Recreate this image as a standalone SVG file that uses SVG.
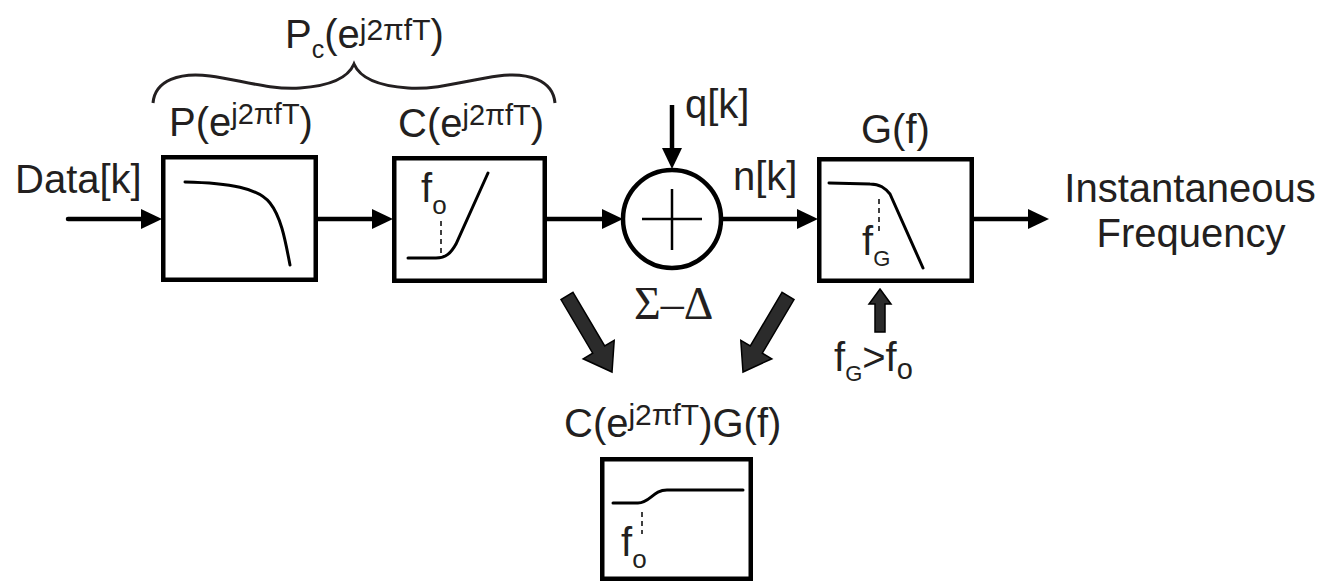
<svg xmlns="http://www.w3.org/2000/svg" width="1326" height="581" viewBox="0 0 1326 581">
<style>
.t{font-family:"Liberation Sans",Arial,sans-serif;fill:#231f20;font-size:40px}
.ts{font-family:"Liberation Serif","Times New Roman",serif;fill:#231f20;font-size:46px}
.box{fill:#fff;stroke:#000;stroke-width:4.5}
.crv{fill:none;stroke:#000;stroke-width:3;stroke-linecap:round}
.dash{fill:none;stroke:#000;stroke-width:1.5;stroke-dasharray:5,4}
.wire{fill:none;stroke:#000;stroke-width:4.5}
.fat{fill:#2b2b2b;stroke:#000;stroke-width:1.5;stroke-linejoin:miter}
</style>
<defs>
<marker id="ah" markerUnits="userSpaceOnUse" markerWidth="22" markerHeight="22" refX="10" refY="10" orient="auto" viewBox="0 0 22 22">
<path d="M0,0 L21,10 L0,20 Z" fill="#000"/>
</marker>
</defs>

<g id="label-pc">
<path d="M153,103 C155,80 180,72 210,76 C240,80 270,90 300,88 C330,86 348,78 354,64 C360,78 378,86 408,88 C438,90 468,80 498,76 C528,72 553,80 555,103" fill="none" stroke="#231f20" stroke-width="3"/>
<text class="t" x="285" y="48" font-size="37">P<tspan font-size="25" dy="10">c</tspan><tspan dy="-10">(e</tspan><tspan font-size="30" dy="-8">j2πfT</tspan><tspan dy="8">)</tspan></text>
</g>

<g id="input">
<text class="t" x="15" y="193">Data[k]</text>
</g>

<g id="node-p">
<text class="t" x="169" y="136" font-size="39">P(e<tspan font-size="29" dy="-12">j2πfT</tspan><tspan dy="12">)</tspan></text>
<rect class="box" x="163.25" y="157.25" width="152.5" height="122.5"/>
<path class="crv" d="M185,182 C230,183 258,188 270,203 C282,218 286,245 290,265"/>
</g>

<g id="node-c">
<text class="t" x="398" y="137" font-size="39">C(e<tspan font-size="29" dy="-12">j2πfT</tspan><tspan dy="12">)</tspan></text>
<rect class="box" x="394.25" y="158.25" width="150.5" height="122.5"/>
<path class="crv" d="M408,258 L436,258 C446,258 451,253 456,244 L488,173"/>
<line class="dash" x1="441" y1="221" x2="441" y2="254"/>
<text class="t" x="421" y="202" font-size="30">f<tspan font-size="26" dy="12">o</tspan></text>
</g>

<g id="node-sum">
<circle cx="672" cy="219" r="49" fill="#fff" stroke="#000" stroke-width="4.5"/>
<line x1="642" y1="219" x2="702" y2="219" stroke="#000" stroke-width="2.5"/>
<line x1="672" y1="189" x2="672" y2="250" stroke="#000" stroke-width="2.5"/>
<text class="ts" x="634" y="319">Σ–Δ</text>
<text class="t" x="685" y="118">q[k]</text>
<text class="t" x="733" y="190">n[k]</text>
</g>

<g id="node-g">
<text class="t" x="861" y="143">G(f)</text>
<rect class="box" x="819.25" y="159.25" width="152.5" height="121.5"/>
<path class="crv" d="M829,183 L870,184 C880,184 885,188 890,194 L923,268"/>
<line class="dash" x1="879" y1="199" x2="879" y2="234"/>
<text class="t" x="862" y="255" font-size="32">f<tspan font-size="22" dy="11">G</tspan></text>
</g>

<g id="note-fg">
<polygon class="fat" points="880,289 891,304 885,304 885,332 875,332 875,304 869,304"/>
<text class="t" x="834" y="371" font-size="35">f<tspan font-size="22" dy="10">G</tspan><tspan dy="-10">&gt;f</tspan><tspan font-size="29" dy="8">o</tspan></text>
</g>

<g id="output">
<text class="t" x="1190" y="202" text-anchor="middle">Instantaneous</text>
<text class="t" x="1191" y="247" text-anchor="middle">Frequency</text>
</g>

<g id="node-cg">
<text class="t" x="564" y="437">C(e<tspan font-size="30" dy="-12">j2πfT</tspan><tspan dy="12">)G(f)</tspan></text>
<rect class="box" x="602.25" y="459.25" width="148.5" height="119.5"/>
<path class="crv" d="M613,503 L638,503 C650,503 653,490 667,490 L743,490"/>
<line class="dash" x1="642" y1="512" x2="642" y2="534"/>
<text class="t" x="621" y="556" font-size="30">f<tspan font-size="26" dy="12">o</tspan></text>
</g>

<g id="connectors">
<line class="wire" x1="68" y1="219" x2="151" y2="219" stroke-linecap="round" marker-end="url(#ah)"/>
<line class="wire" x1="318" y1="219" x2="382" y2="219" marker-end="url(#ah)"/>
<line class="wire" x1="547" y1="219" x2="612" y2="219" marker-end="url(#ah)"/>
<line class="wire" x1="672" y1="105" x2="672" y2="158" marker-end="url(#ah)"/>
<line class="wire" x1="722" y1="219" x2="807" y2="219" marker-end="url(#ah)"/>
<line class="wire" x1="974" y1="219" x2="1038" y2="219" marker-end="url(#ah)"/>
<polygon class="fat" points="573.0,292.4 604.7,346.0 614.2,340.4 612,372 583.2,358.8 592.7,353.2 561.0,299.6"/>
<polygon class="fat" points="782.0,292.4 750.3,346.0 740.8,340.4 743,372 771.8,358.8 762.3,353.2 794.0,299.6"/>
</g>
</svg>
